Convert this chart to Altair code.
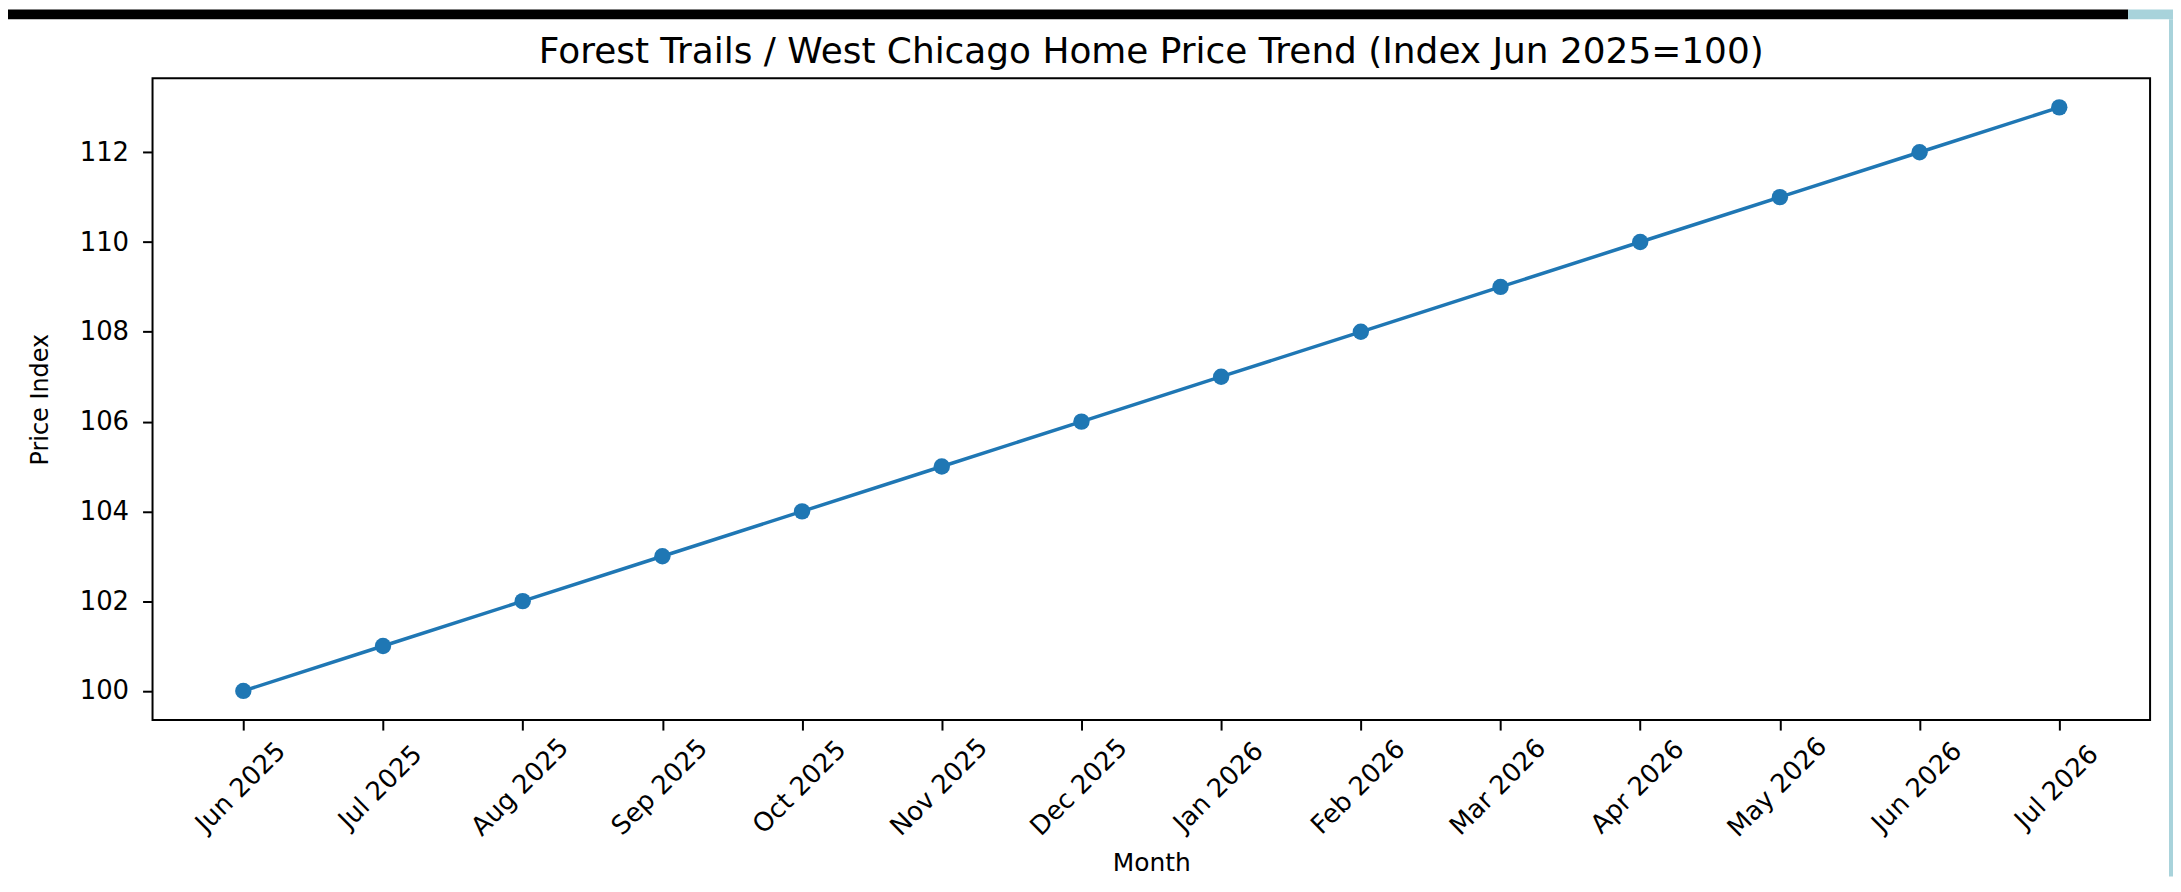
import altair as alt
import pandas as pd

# ---- data ----
months = ["Jun 2025", "Jul 2025", "Aug 2025", "Sep 2025", "Oct 2025", "Nov 2025",
          "Dec 2025", "Jan 2026", "Feb 2026", "Mar 2026", "Apr 2026", "May 2026",
          "Jun 2026", "Jul 2026"]
price_index = [100, 101, 102, 103, 104, 105, 106, 107, 108, 109, 110, 111, 112, 113]
y_ticks = [100, 102, 104, 106, 108, 110, 112]
title_text = "Forest Trails / West Chicago Home Price Trend (Index Jun 2025=100)"
x_title = "Month"
y_title = "Price Index"

df = pd.DataFrame({"month": months, "price": price_index})

FONT = "DejaVu Sans"
BLUE = "#1f77b4"
LIGHTBLUE = "#a8d3db"
W, H = 2004, 644

x_enc = alt.X(
    "month:N", sort=None,
    scale=alt.Scale(type="point", padding=0.65),
    axis=alt.Axis(
        title=x_title, labelAngle=315, labelAlign="center", labelBaseline="middle",
        labelPadding=57, labelOffset=-3, labelFontSize=26, labelFont=FONT,
        labelColor="black", tickSize=10, tickWidth=2, tickColor="black",
        domain=False, grid=False, titleFont=FONT, titleFontSize=25,
        titleFontWeight="normal", titleColor="black", titleX=W / 2, titleY=151,
        titleAlign="center", titleBaseline="alphabetic", zindex=1,
    ),
)
y_enc = alt.Y(
    "price:Q",
    scale=alt.Scale(domain=[99.35, 113.65], nice=False, zero=False),
    axis=alt.Axis(
        title=y_title, values=y_ticks, labelFontSize=26, labelFont=FONT,
        labelColor="black", labelPadding=14, tickSize=10, tickWidth=2,
        tickColor="black", domain=False, grid=False, titleFont=FONT,
        titleFontSize=24, titleFontWeight="normal", titleColor="black",
        titleAngle=270, titleX=-112, titleY=H / 2, titleAlign="center",
        titleBaseline="middle", zindex=1,
    ),
)

base = alt.Chart(df)
line = base.mark_line(color=BLUE, strokeWidth=3.5).encode(x=x_enc, y=y_enc)
points = base.mark_point(filled=True, size=270, color=BLUE, opacity=1).encode(x=x_enc, y=y_enc)

one = alt.Data(values=[{"t": title_text}])
black_bar = alt.Chart(one).mark_rect(color="black").encode(
    x=alt.value(-145), x2=alt.value(1982), y=alt.value(-69), y2=alt.value(-59))
blue_top = alt.Chart(one).mark_rect(color=LIGHTBLUE).encode(
    x=alt.value(1982), x2=alt.value(2027), y=alt.value(-69), y2=alt.value(-59))
blue_right = alt.Chart(one).mark_rect(color=LIGHTBLUE).encode(
    x=alt.value(2023), x2=alt.value(2027), y=alt.value(-59), y2=alt.value(801))
title = alt.Chart(one).mark_text(
    fontSize=36, font=FONT, align="center", baseline="alphabetic", color="black"
).encode(text="t:N", x=alt.value(W / 2), y=alt.value(-15))

chart = alt.layer(black_bar, blue_top, blue_right, title, line, points).properties(
    width=W, height=H,
    autosize=alt.AutoSizeParams(type="none"),
    padding={"left": 145, "top": 69, "right": 23, "bottom": 157},
    background="white",
).configure_view(stroke="black", strokeWidth=2, fill="white")

chart.save("out.html", embed_options={"renderer": "svg", "actions": False})
